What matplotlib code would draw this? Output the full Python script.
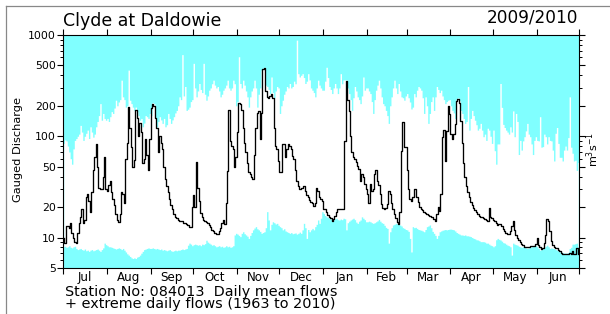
import numpy as np
import matplotlib
matplotlib.use('Agg')
import matplotlib.pyplot as plt
from matplotlib.ticker import FixedLocator, FixedFormatter, NullFormatter
from matplotlib.lines import Line2D

months = ['Jul', 'Aug', 'Sep', 'Oct', 'Nov', 'Dec', 'Jan', 'Feb', 'Mar', 'Apr', 'May', 'Jun']
month_lengths = [31, 31, 30, 31, 30, 31, 31, 28, 31, 30, 31, 30]
y_ticks = [5, 10, 20, 50, 100, 200, 500, 1000]
y_minor = [6, 7, 8, 9, 30, 40, 60, 70, 80, 90, 300, 400, 600, 700, 800, 900]

# daily mean flows 2009/2010 (m3/s)
daily_mean = [
    10, 8.8, 13, 13, 12.5, 14, 11, 10, 9, 8.8, 11, 14, 16, 19, 14, 15, 25, 27, 23, 18, 28, 46, 62, 84, 50, 31, 30, 30, 40, 62, 30,
    29, 33, 36, 28, 24, 21, 17, 15, 14.3, 17, 28, 27, 22, 60, 85, 194, 120, 78, 50, 58, 180, 150, 100, 134, 110, 55, 60, 95, 65, 46, 95,
    190, 210, 200, 150, 120, 70, 100, 85, 75, 50, 38, 32, 28, 24, 21, 19, 17, 16, 15.5, 15, 14.7, 14.5, 14.5, 14, 14, 13.5, 13.3, 12.8, 12.7, 20,
    26, 20, 56, 31, 23, 17.5, 16, 15, 14.6, 14.2, 13.8, 13.3, 12.8, 12, 11.5, 11.1, 10.8, 10.8, 11.5, 12.5, 14, 15, 13.5, 22, 45, 180, 90, 80, 75, 50, 62,
    110, 215, 210, 180, 120, 85, 70, 55, 44, 42, 40, 38, 65, 120, 170, 178, 94, 170, 460, 470, 280, 245, 240, 250, 260, 240, 120, 80, 75, 57,
    44, 44, 84, 84, 62, 75, 84, 81, 75, 64, 60, 46, 36, 32, 30, 31, 31, 32, 29, 26, 25, 23.5, 22.5, 22, 20.6, 22, 31, 29, 25, 24, 23,
    19, 19, 17.7, 16.5, 16, 15.5, 14.7, 15.2, 16.4, 18, 19, 19, 19, 19, 19, 90, 354, 230, 178, 100, 70, 62, 59, 56, 51, 47, 36, 42, 40, 34, 30,
    27, 22, 34, 29, 30, 42, 46, 36, 33, 27, 21.5, 19.5, 19, 19.5, 21.4, 29, 27, 22, 19, 17, 15.5, 14.3, 13.6, 18, 72, 138, 78, 78,
    46, 30, 24, 23, 25, 30, 30, 25, 22.3, 20, 19, 18.5, 18, 17.5, 17, 16.5, 16.3, 16, 16, 15.3, 14.7, 17, 19.8, 18.4, 27, 98, 115, 57, 113, 200, 165,
    105, 94, 105, 131, 224, 232, 215, 140, 85, 55, 40, 32, 28, 25, 22.5, 21, 19.5, 18.5, 17.7, 17, 16.4, 16, 15.9, 15.5, 15.2, 15, 14.7, 19.5, 16, 15.5,
    15, 14.7, 14, 13.2, 13.6, 13.6, 13, 12.2, 11.7, 11.2, 10.8, 10.8, 11.5, 13, 14.7, 12, 10.5, 9.8, 9.5, 9.0, 8.7, 8.4, 8.1, 8.0, 8.0, 8.1, 8.2, 8.2, 8.3, 8.3, 8.6,
    10, 8.4, 8.0, 7.7, 7.8, 8.8, 10.5, 15.2, 14.5, 11.5, 9.3, 8.4, 8.0, 7.9, 7.8, 7.6, 7.4, 7.1, 6.9, 6.8, 6.8, 6.8, 6.9, 7.0, 6.9, 7.4, 6.9, 6.8, 7.8, 6.9,
]

# extreme daily maxima 1963-2010 (m3/s)
daily_max = [
    85, 92, 90, 80, 70, 60, 53, 75, 91, 95, 100, 105, 128, 110, 91, 100, 107, 115, 95, 124, 110, 98, 105, 124, 140, 160, 210, 144, 168, 150, 144,
    150, 140, 156, 175, 168, 190, 227, 200, 218, 230, 358, 245, 230, 194, 200, 450, 227, 210, 194, 180, 194, 175, 160, 144, 150, 124, 135, 160, 156, 150, 168,
    160, 215, 210, 150, 124, 140, 156, 145, 134, 150, 124, 130, 168, 150, 134, 145, 156, 170, 180, 200, 245, 230, 640, 250, 310, 180, 185, 194, 220, 230,
    525, 300, 245, 280, 332, 290, 270, 525, 260, 227, 250, 285, 300, 330, 358, 320, 300, 310, 280, 245, 260, 285, 300, 320, 358, 300, 285, 300, 358, 330, 200,
    220, 610, 332, 300, 358, 320, 280, 245, 194, 245, 280, 300, 358, 300, 194, 260, 300, 450, 470, 480, 320, 310, 290, 264, 385, 270, 240, 280, 310, 300,
    168, 200, 227, 260, 280, 310, 300, 332, 300, 310, 350, 330, 890, 415, 385, 400, 415, 380, 332, 350, 415, 360, 300, 285, 270, 245, 300, 358, 320, 300, 285,
    285, 350, 480, 380, 310, 290, 264, 300, 332, 300, 264, 300, 415, 330, 360, 360, 360, 300, 264, 230, 180, 240, 310, 280, 245, 230, 210, 250, 385, 285, 300,
    300, 280, 264, 220, 168, 230, 285, 320, 358, 300, 245, 210, 200, 180, 160, 134, 200, 245, 300, 358, 300, 264, 332, 280, 245, 240, 227, 250,
    264, 240, 218, 186, 194, 264, 245, 285, 310, 300, 285, 240, 168, 245, 200, 134, 168, 220, 245, 180, 245, 310, 290, 270, 285, 250, 230, 210, 220, 227, 230,
    200, 180, 170, 150, 235, 240, 225, 180, 168, 150, 134, 140, 310, 115, 150, 180, 160, 144, 130, 115, 120, 134, 115, 99, 105, 91, 120, 115, 100, 85,
    115, 72, 53, 84, 84, 332, 193, 131, 122, 115, 110, 105, 124, 110, 178, 99, 168, 140, 66, 91, 73, 90, 99, 113, 134, 105, 99, 84, 66, 91, 99,
    91, 90, 156, 78, 79, 105, 99, 84, 99, 91, 90, 73, 57, 107, 122, 85, 62, 62, 57, 73, 80, 73, 97, 245, 78, 68, 57, 58, 46, 55,
]

# extreme daily minima 1963-2010 (m3/s)
daily_min = [
    8.1, 8.2, 8.0, 8.1, 8.3, 8.0, 7.9, 8.1, 8.2, 7.8, 7.6, 7.7, 7.8, 7.6, 7.5, 7.7, 7.4, 7.5, 7.3, 7.5, 7.6, 7.4, 7.5, 7.6, 7.7, 7.5, 7.3, 7.6, 7.9, 8.8, 8.5,
    8.3, 8.1, 8.1, 8.0, 7.9, 7.8, 7.7, 7.8, 7.9, 7.8, 7.6, 7.8, 7.5, 7.2, 6.9, 6.7, 6.5, 6.3, 6.2, 6.3, 6.2, 6.4, 6.5, 6.7, 7.0, 7.3, 7.6, 7.7, 7.8, 7.9, 7.8,
    7.8, 7.9, 7.8, 7.7, 7.8, 7.7, 7.6, 7.7, 7.5, 7.6, 7.5, 7.4, 7.5, 7.6, 7.4, 7.3, 7.4, 7.5, 7.4, 7.5, 7.5, 7.6, 7.7, 7.6, 7.7, 7.8, 8.4, 8.8, 8.6, 8.3,
    8.5, 8.6, 8.5, 8.4, 8.5, 8.3, 8.6, 8.5, 8.7, 9.4, 9.0, 8.8, 8.6, 8.4, 8.5, 8.3, 8.1, 8.2, 8.3, 8.1, 8.2, 8.0, 8.1, 8.3, 8.1, 8.2, 8.0, 8.1, 8.3, 10.6, 11.0,
    10.8, 10.5, 10.2, 11.0, 11.4, 10.9, 10.6, 10.3, 9.8, 10.5, 11.2, 11.9, 12.4, 12.8, 12.2, 11.9, 11.5, 11.0, 11.2, 11.4, 12.5, 18.0, 14.9, 11.9, 13.5, 14.3, 14.0, 13.6, 13.8, 13.2,
    12.8, 12.5, 11.9, 12.2, 11.6, 11.4, 11.2, 11.0, 11.2, 10.9, 11.0, 11.1, 10.8, 11.0, 11.3, 11.0, 11.9, 13.8, 12.5, 9.8, 12.0, 11.4, 11.9, 12.3, 11.9, 12.8, 13.5, 14.9, 13.8, 15.5, 18.0,
    17.3, 16.5, 16.0, 15.8, 15.5, 15.2, 15.0, 14.9, 15.3, 15.5, 15.0, 14.9, 15.2, 15.0, 15.5, 15.3, 11.9, 14.0, 14.5, 14.9, 15.2, 15.5, 15.0, 14.2, 13.8, 14.5, 14.9, 16.0, 15.5, 15.0, 14.3,
    14.3, 14.5, 14.3, 14.0, 13.8, 14.0, 14.3, 14.6, 15.1, 14.5, 14.0, 13.8, 13.2, 12.6, 12.3, 8.8, 11.4, 12.5, 13.3, 13.5, 13.8, 13.6, 13.5, 13.3, 13.0, 12.5, 12.3, 12.0,
    11.9, 11.5, 9.8, 7.2, 12.8, 12.5, 12.6, 12.3, 12.0, 11.9, 11.8, 11.6, 11.4, 12.0, 12.8, 13.0, 13.3, 12.5, 11.5, 11.0, 10.5, 9.8, 10.5, 11.4, 11.6, 11.8, 11.9, 12.0, 11.9, 12.0, 12.1,
    12.1, 12.0, 11.9, 11.6, 11.2, 11.0, 10.8, 10.6, 10.6, 10.5, 10.6, 10.4, 10.4, 10.3, 10.2, 10.0, 9.8, 9.7, 9.5, 9.45, 9.3, 9.1, 9.1, 9.1, 9.0, 8.8, 8.8, 8.6, 8.4, 8.3,
    8.1, 8.3, 9.5, 9.8, 9.6, 9.45, 9.2, 8.9, 8.8, 8.6, 8.4, 8.3, 8.1, 6.7, 8.8, 8.6, 8.5, 8.4, 8.2, 8.1, 8.0, 8.1, 8.1, 7.9, 7.8, 7.9, 8.0, 8.1, 8.3, 8.4, 8.3,
    8.1, 7.8, 7.5, 7.6, 7.8, 8.0, 8.2, 8.4, 8.1, 7.8, 7.9, 7.8, 7.8, 7.6, 7.5, 7.4, 7.2, 7.2, 7.1, 7.0, 7.0, 7.0, 7.1, 7.8, 8.0, 8.6, 8.6, 8.7, 8.8, 8.1,
]

plt.rcParams['font.family'] = ['DejaVu Sans']

W, H = 610, 314
fig = plt.figure(figsize=(W / 100, H / 100), dpi=100)
fig.patch.set_facecolor('white')

ax = fig.add_axes([63 / W, (H - 268) / H, 516 / W, 233 / H])
ax.set_facecolor('#80ffff')

days = np.arange(len(daily_mean))
ax.fill_between(days, daily_min, daily_max, step='mid', color='white', lw=0)
ax.plot(days, daily_mean, drawstyle='steps-mid', color='black', lw=0.95)

ax.set_yscale('log')
ax.set_ylim(5, 1000)
ax.set_xlim(-0.5, len(daily_mean) - 0.5)

bounds = np.concatenate([[0], np.cumsum(month_lengths)]) - 0.5
mids = bounds[:-1] + np.array(month_lengths) / 2.0
ax.xaxis.set_major_locator(FixedLocator(bounds))
ax.xaxis.set_major_formatter(NullFormatter())
ax.xaxis.set_minor_locator(FixedLocator(mids))
ax.xaxis.set_minor_formatter(FixedFormatter(months))
ax.tick_params(axis='x', which='major', direction='out', length=4.5, width=0.8,
               top=True, bottom=True)
ax.tick_params(axis='x', which='minor', length=0, labelsize=8.6, pad=2.5, top=False)

ax.yaxis.set_major_locator(FixedLocator(y_ticks))
ax.yaxis.set_major_formatter(FixedFormatter([str(v) for v in y_ticks]))
ax.yaxis.set_minor_locator(FixedLocator(y_minor))
ax.yaxis.set_minor_formatter(NullFormatter())
ax.tick_params(axis='y', which='major', direction='out', length=4.5, width=0.8,
               left=True, right=True, labelsize=7.8, pad=0.6)
ax.tick_params(axis='y', which='minor', direction='out', length=2.2, width=0.7,
               left=True, right=True)

for s in ax.spines.values():
    s.set_linewidth(0.8)
    s.set_color('black')

fig.text(63 / W, 1 - 25.7 / H, 'Clyde at Daldowie', ha='left', va='baseline', fontsize=12.5)
fig.text(578 / W, 1 - 22.7 / H, '2009/2010', ha='right', va='baseline', fontsize=12.2)
fig.text(18 / W, 1 - 150 / H, 'Gauged Discharge', rotation=90, ha='center', va='center', fontsize=8.2)
fig.text(593 / W, 1 - 150 / H, r'm$^{3}$s$^{-1}$', rotation=90, ha='center', va='center', fontsize=8)
fig.text(65 / W, 1 - 298 / H,
         'Station No: 084013  Daily mean flows\n+ extreme daily flows (1963 to 2010)',
         ha='left', va='center', fontsize=10.4, linespacing=0.86)

# partial outer frame (left and top)
fig.add_artist(Line2D([5.5 / W, 5.5 / W], [0, 1 - 6 / H], transform=fig.transFigure, color='#888888', lw=0.9))
fig.add_artist(Line2D([5.5 / W, 1], [1 - 6 / H, 1 - 6 / H], transform=fig.transFigure, color='#888888', lw=0.9))

fig.savefig('out.png', dpi=100)
